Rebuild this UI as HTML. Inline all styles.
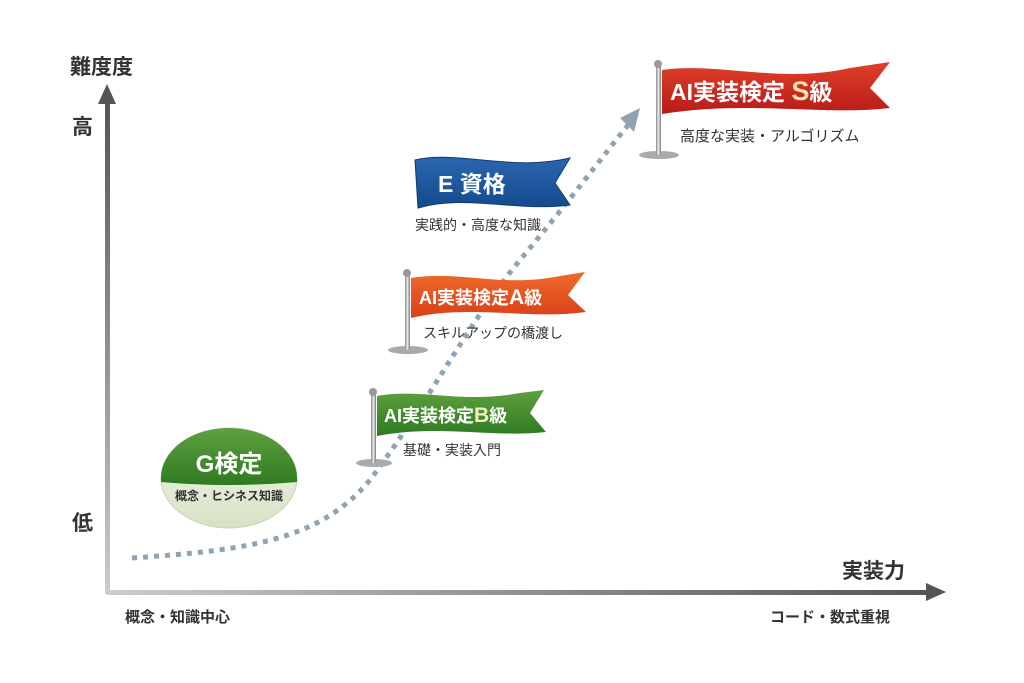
<!DOCTYPE html>
<html><head><meta charset="utf-8"><style>
html,body{margin:0;padding:0;background:#fff;}
svg{display:block;font-family:"Liberation Sans","Noto Sans CJK JP",sans-serif;}
</style></head><body>
<svg width="1024" height="683" viewBox="0 0 1024 683" xmlns="http://www.w3.org/2000/svg">
<defs>
<linearGradient id="ax" x1="0" y1="1" x2="0" y2="0"><stop offset="0" stop-color="#ccc"/><stop offset="1" stop-color="#555"/></linearGradient>
<linearGradient id="axh" x1="0" y1="0" x2="1" y2="0"><stop offset="0" stop-color="#ccc"/><stop offset="1" stop-color="#555"/></linearGradient>
<linearGradient id="grn" x1="0" y1="0" x2="0" y2="1"><stop offset="0" stop-color="#5fa040"/><stop offset="1" stop-color="#2e7a22"/></linearGradient>
<linearGradient id="red" x1="0" y1="0" x2="0" y2="1"><stop offset="0" stop-color="#e0402a"/><stop offset="1" stop-color="#b81a18"/></linearGradient>
<linearGradient id="org" x1="0" y1="0" x2="0" y2="1"><stop offset="0" stop-color="#f06a2a"/><stop offset="1" stop-color="#d8401a"/></linearGradient>
<linearGradient id="blu" x1="0" y1="0" x2="0" y2="1"><stop offset="0" stop-color="#2a66b0"/><stop offset="1" stop-color="#154a8c"/></linearGradient>
<linearGradient id="pole" x1="0" y1="0" x2="1" y2="0"><stop offset="0" stop-color="#888"/><stop offset=".5" stop-color="#eee"/><stop offset="1" stop-color="#777"/></linearGradient>
<linearGradient id="ell" x1="0" y1="0" x2="0" y2="1"><stop offset="0" stop-color="#f4f6ec"/><stop offset="1" stop-color="#d6e2c4"/></linearGradient>
</defs>
<!-- axes -->
<rect x="105" y="100" width="5" height="494" fill="url(#ax)"/>
<polygon points="107,84 98,104 116,104" fill="#555"/>
<rect x="107" y="590" width="822" height="5" fill="url(#axh)"/>
<polygon points="946,592 926,583 926,601" fill="#555"/>
<text x="70" y="74" font-size="21" font-weight="bold" fill="#333">難度度</text>
<text x="72" y="134" font-size="21" font-weight="bold" fill="#333">高</text>
<text x="72" y="530" font-size="21" font-weight="bold" fill="#333">低</text>
<text x="842" y="578" font-size="21" font-weight="bold" fill="#333">実装力</text>
<text x="125" y="622" font-size="15" font-weight="bold" fill="#333">概念・知識中心</text>
<text x="770" y="622" font-size="15" font-weight="bold" fill="#333">コード・数式重視</text>
<!-- dotted path -->
<path d="M132,558 C250,550 320,540 370,480 C430,400 470,320 520,260 C570,200 600,160 628,125" fill="none" stroke="#8fa3b3" stroke-width="5" stroke-dasharray="5,6"/>
<polygon points="640,108 620,118 634,132" fill="#8fa3b3"/>
<!-- G ellipse -->
<ellipse cx="229" cy="478" rx="68" ry="50" fill="url(#ell)" stroke="#c8d4b8"/>
<path d="M161,478 A68,50 0 0 1 297,478 L297,482 C250,486 210,486 161,482 Z" fill="url(#grn)"/>
<text x="229" y="472" font-size="24" font-weight="bold" fill="#fff" text-anchor="middle">G検定</text>
<text x="229" y="500" font-size="12" font-weight="bold" fill="#333" text-anchor="middle">概念・ヒシネス知識</text>
<!-- B flag -->
<ellipse cx="374" cy="463" rx="18" ry="4" fill="#aaa"/>
<rect x="371" y="393" width="5" height="70" fill="url(#pole)"/>
<circle cx="373" cy="392" r="4" fill="#999"/>
<path d="M377,396 C420,388 460,404 520,393 L544,390 L530,413 L546,432 C490,438 440,424 377,436 Z" fill="url(#grn)"/>
<text x="384" y="422" font-size="18" font-weight="bold" fill="#fff">AI実装検定<tspan fill="#f4eec0" font-size="21">B</tspan>級</text>
<text x="403" y="455" font-size="14" fill="#333">基礎・実装入門</text>
<!-- A flag -->
<ellipse cx="408" cy="350" rx="20" ry="4" fill="#aaa"/>
<rect x="405" y="273" width="5" height="77" fill="url(#pole)"/>
<circle cx="407" cy="273" r="4" fill="#999"/>
<path d="M411,278 C460,270 500,288 560,276 L585,272 L568,295 L586,312 C530,320 470,304 411,318 Z" fill="url(#org)"/>
<text x="419" y="304" font-size="18" font-weight="bold" fill="#fff">AI実装検定<tspan font-size="21">A</tspan>級</text>
<text x="423" y="338" font-size="14" fill="#333">スキルアップの橋渡し</text>
<!-- E banner -->
<path d="M415,160 C460,150 510,172 570,158 L555,183 L570,205 C515,212 465,194 418,208 Z" fill="url(#blu)" stroke="#0e3a72"/>
<text x="438" y="192" font-size="23" font-weight="bold" fill="#fff">E 資格</text>
<text x="415" y="230" font-size="14" fill="#333">実践的・高度な知識</text>
<!-- S flag -->
<ellipse cx="659" cy="155" rx="20" ry="4" fill="#aaa"/>
<rect x="656" y="64" width="5" height="91" fill="url(#pole)"/>
<circle cx="658" cy="64" r="4" fill="#999"/>
<path d="M662,70 C720,62 780,84 850,68 L890,62 L870,88 L890,108 C820,116 750,100 662,114 Z" fill="url(#red)"/>
<text x="670" y="100" font-size="23" font-weight="bold" fill="#fff">AI実装検定 <tspan fill="#f8e8b0" font-size="27">S</tspan>級</text>
<text x="680" y="141" font-size="15" fill="#333">高度な実装・アルゴリズム</text>
</svg>
</body></html>
